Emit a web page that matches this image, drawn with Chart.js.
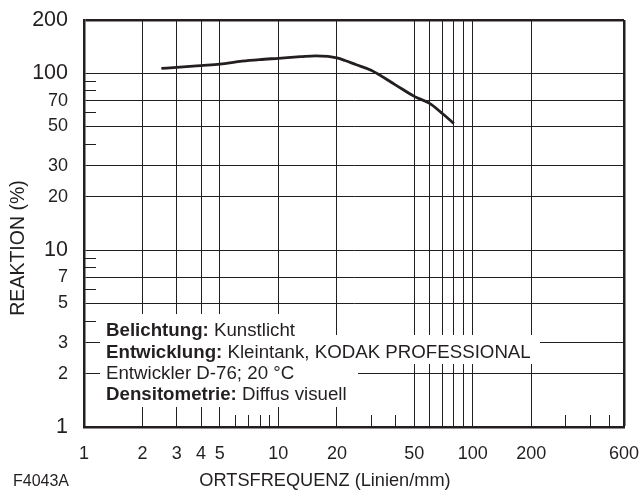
<!DOCTYPE html>
<html>
<head>
<meta charset="utf-8">
<script src="https://cdn.jsdelivr.net/npm/chart.js@4/dist/chart.umd.min.js"></script>
<style>
html,body{margin:0;padding:0;background:#fff;}
#wrap{width:639px;height:496px;position:relative;}
</style>
</head>
<body>
<div id="wrap"><canvas id="c" width="639" height="496"></canvas></div>
<script>
// ---- data ----
const frequency = [2.5, 3, 4, 5, 6.5, 8, 10, 13, 15.5, 18, 20, 22, 25, 30, 40, 50, 60, 70, 80];
const response  = [106.5, 108, 110.5, 112.5, 117, 119.5, 121.5, 124, 125.5, 124.5, 122, 118, 112, 104, 86, 74, 67.5, 59, 52];

const xTickValues  = [1,2,3,4,5,6,7,8,9,10,20,30,40,50,60,70,80,90,100,200,300,400,500,600];
const xTickLabels  = [1,2,3,4,5,10,20,50,100,200,600];
const xGridValues  = [2,3,4,5,10,20,50,60,70,80,90,100,200];
const xMinorValues = [6,7,8,9,30,40,300,400,500];

const yTickValues  = [1,2,3,4,5,6,7,8,9,10,20,30,40,50,60,70,80,90,100,200];
const yTickLabels  = [1,2,3,5,7,10,20,30,50,70,100,200];
const yLargeLabels = [1,10,100,200];
const yGridValues  = [2,3,5,7,10,20,30,50,70,100];
const yMinorValues = [4,6,8,9,40,60,80,90];

const xTitle = 'ORTSFREQUENZ (Linien/mm)';
const yTitle = 'REAKTION (%)';
const figureId = 'F4043A';
const notes = [
  ['Belichtung:', ' Kunstlicht'],
  ['Entwicklung:', ' Kleintank, KODAK PROFESSIONAL'],
  ['', 'Entwickler D-76; 20 \u00B0C'],
  ['Densitometrie:', ' Diffus visuell']
];

// ---- styling ----
const INK = '#231f20';
const FONT = "'Liberation Sans', Arial, Helvetica, sans-serif";

const overlayPlugin = {
  id: 'overlay',
  beforeDatasetsDraw(chart) {
    const ctx = chart.ctx;
    const ca = chart.chartArea;
    const xs = chart.scales.x, ys = chart.scales.y;
    ctx.save();
    // white backing behind the notes block
    ctx.fillStyle = '#fff';
    ctx.fillRect(100, 314, 202, 21);
    ctx.fillRect(100, 335, 440, 29);
    ctx.fillRect(100, 364, 258, 43);
    // minor tick marks
    ctx.strokeStyle = INK;
    ctx.lineWidth = 1;
    ctx.beginPath();
    yMinorValues.forEach(v => {
      const y = Math.round(ys.getPixelForValue(v)) + 0.5;
      ctx.moveTo(ca.left, y); ctx.lineTo(ca.left + 12, y);
    });
    xMinorValues.forEach(v => {
      const x = Math.round(xs.getPixelForValue(v)) + 0.5;
      ctx.moveTo(x, ca.bottom); ctx.lineTo(x, ca.bottom - 12);
    });
    ctx.stroke();
    ctx.restore();
  },
  afterDraw(chart) {
    const ctx = chart.ctx;
    ctx.save();
    ctx.fillStyle = INK;
    ctx.textBaseline = 'alphabetic';
    // notes
    const baselines = [336, 358, 379, 400];
    notes.forEach((row, i) => {
      let x = 106;
      if (row[0]) {
        ctx.font = 'bold 18.7px ' + FONT;
        ctx.fillText(row[0], x, baselines[i]);
        x += ctx.measureText(row[0]).width;
      }
      ctx.font = '18.7px ' + FONT;
      ctx.fillText(row[1], x, baselines[i]);
    });
    // axis titles
    ctx.font = '18.2px ' + FONT;
    ctx.textAlign = 'center';
    ctx.fillText(xTitle, 325, 486);
    ctx.font = '16px ' + FONT;
    ctx.textAlign = 'left';
    ctx.fillText(figureId, 13, 486);
    ctx.save();
    ctx.translate(24, 248);
    ctx.rotate(-Math.PI / 2);
    ctx.font = '19.5px ' + FONT;
    ctx.textAlign = 'center';
    ctx.fillText(yTitle, 0, 0);
    ctx.restore();
    ctx.restore();
  }
};

new Chart(document.getElementById('c'), {
  type: 'line',
  data: {
    datasets: [{
      data: frequency.map((f, i) => ({x: f, y: response[i]})),
      borderColor: INK,
      borderWidth: 2.8,
      pointRadius: 0,
      fill: false,
      cubicInterpolationMode: 'monotone',
      borderCapStyle: 'butt'
    }]
  },
  options: {
    responsive: false,
    animation: false,
    devicePixelRatio: 1,
    layout: {padding: {top: 20, right: 15, left: 0, bottom: 0}},
    plugins: {legend: {display: false}, tooltip: {enabled: false}, title: {display: false}},
    scales: {
      x: {
        type: 'logarithmic',
        min: 1, max: 600,
        afterBuildTicks: s => { s.ticks = xTickValues.map(v => ({value: v})); },
        afterFit: s => { s.height = 69; s.paddingLeft = 0; s.paddingRight = 0; s.paddingTop = 0; s.paddingBottom = 0; },
        ticks: {
          autoSkip: false, maxRotation: 0, minRotation: 0,
          padding: 16,
          color: INK,
          font: {family: FONT, size: 18},
          callback: v => xTickLabels.includes(v) ? String(v) : ''
        },
        grid: {
          drawTicks: false,
          color: c => (xGridValues.includes(c.tick.value) || c.tick.value === 600) ? INK : 'rgba(0,0,0,0)',
          lineWidth: c => c.tick.value === 600 ? 2.5 : 1
        },
        border: {display: true, color: INK, width: 2.5}
      },
      y: {
        type: 'logarithmic',
        min: 1, max: 200,
        afterBuildTicks: s => { s.ticks = yTickValues.map(v => ({value: v})); },
        afterFit: s => { s.width = 84; s.paddingLeft = 0; s.paddingRight = 0; s.paddingTop = 0; s.paddingBottom = 0; },
        ticks: {
          autoSkip: false,
          padding: 16,
          color: INK,
          font: c => ({family: FONT, size: (c.tick && yLargeLabels.includes(c.tick.value)) ? 21.5 : 18}),
          callback: v => yTickLabels.includes(v) ? String(v) : ''
        },
        grid: {
          drawTicks: false,
          color: c => (yGridValues.includes(c.tick.value) || c.tick.value === 200) ? INK : 'rgba(0,0,0,0)',
          lineWidth: c => c.tick.value === 200 ? 2.5 : 1
        },
        border: {display: true, color: INK, width: 2.5}
      }
    }
  },
  plugins: [overlayPlugin]
});
</script>
</body>
</html>
